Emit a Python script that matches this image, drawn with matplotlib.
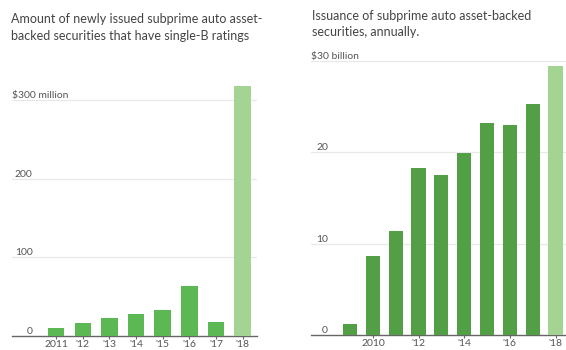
import matplotlib
matplotlib.use("Agg")
import matplotlib.pyplot as plt
import matplotlib.transforms as mtransforms

plt.rcParams['font.family'] = ['Lato', 'DejaVu Sans']

# single-B rated subprime auto ABS, $ million
b_years = ['2011', "'12", "'13", "'14", "'15", "'16", "'17", "'18"]
b_values = [10, 16.5, 23, 28, 33.5, 64, 18, 317]

# all subprime auto ABS issuance, $ billion
all_years = ['2009', '2010', '2011', "'12", "'13", "'14", "'15", "'16", "'17", "'18"]
all_values = [1.2, 8.7, 11.4, 18.3, 17.5, 19.9, 23.2, 23.0, 25.3, 29.4]
all_labelled = ['2010', "'12", "'14", "'16", "'18"]

left_ticks = [0, 100, 200, 300]
right_ticks = [0, 10, 20, 30]

GREEN = '#5cb852'
DARK_GREEN = '#539f46'
LIGHT_GREEN = '#a3d492'
GRID = '#e8e8e8'
AXIS = '#666666'
TEXT = '#444444'
TICK_TEXT = '#555555'

fig = plt.figure(figsize=(5.66, 3.5), dpi=100)


def draw_panel(ax, labels, values, colors, yticks, unit, xlim, ylim, shown, label_x):
    x = range(len(values))
    ax.bar(x, values, width=0.62, color=colors, zorder=3)
    ax.set_xlim(*xlim)
    ax.set_ylim(*ylim)
    for s in ['top', 'right', 'left']:
        ax.spines[s].set_visible(False)
    ax.spines['bottom'].set_color(AXIS)
    ax.spines['bottom'].set_linewidth(1.0)
    ax.set_yticks([])
    ticks = [i for i, l in enumerate(labels) if l in shown]
    ax.set_xticks(ticks)
    ax.set_xticklabels([labels[i] for i in ticks], fontsize=7.5, color=TICK_TEXT)
    ax.tick_params(axis='x', length=2.5, width=0.8, color=AXIS, pad=0.5)
    trans = mtransforms.blended_transform_factory(ax.transAxes, ax.transData)
    for t in yticks:
        if t > 0:
            ax.axhline(t, color=GRID, lw=0.9, zorder=1)
        if t == yticks[-1]:
            # top label carries the currency and unit
            ax.text(0.0, t, '$' + str(t) + unit, ha='left', va='bottom',
                    fontsize=7.5, color=TICK_TEXT, transform=trans)
        else:
            ax.text(label_x, t, str(t), ha='right', va='bottom',
                    fontsize=7.5, color=TICK_TEXT, transform=trans)


ax1 = fig.add_axes([0.0207, 0.04, 0.4328, 0.7154])
draw_panel(ax1, b_years, b_values, [GREEN] * 7 + [LIGHT_GREEN], left_ticks,
           ' million', (-1.67, 7.53), (0, 318), b_years, 0.0857)

ax2 = fig.add_axes([0.55, 0.042, 0.45, 0.797])
draw_panel(ax2, all_years, all_values, [DARK_GREEN] * 9 + [LIGHT_GREEN], right_ticks,
           ' billion', (-1.7, 9.46), (0, 30.5), all_labelled, 0.0656)

fig.text(0.0195, 0.962, 'Amount of newly issued subprime auto asset-\n'
         'backed securities that have single-B ratings',
         ha='left', va='top', fontsize=9, color=TEXT, linespacing=1.45)
fig.text(0.551, 0.972, 'Issuance of subprime auto asset-backed\n'
         'securities, annually.',
         ha='left', va='top', fontsize=9, color=TEXT, linespacing=1.45)

fig.savefig('out.png', dpi=100)
